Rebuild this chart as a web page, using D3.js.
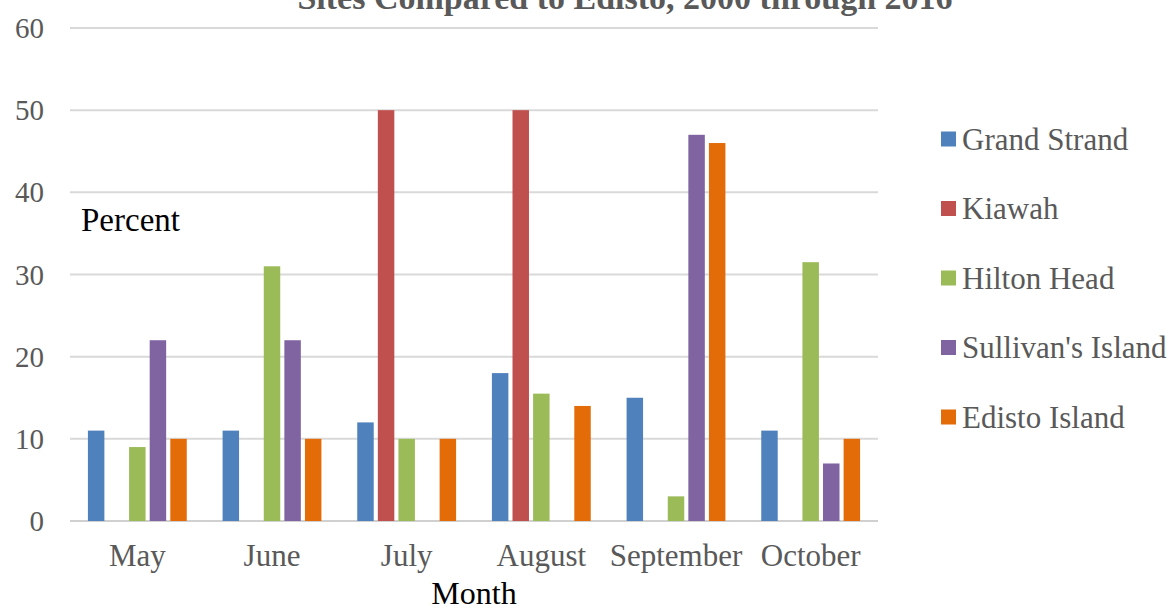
<!DOCTYPE html>
<html><head><meta charset="utf-8">
<script src="https://cdn.jsdelivr.net/npm/d3@7"></script>
<style>body{margin:0;background:#fff}svg{display:block}</style>
</head><body>
<script>
const months = ["May","June","July","August","September","October"];
const seriesNames = ["Grand Strand","Kiawah","Hilton Head","Sullivan's Island","Edisto Island"];
const grandStrand = [11,11,12,18,15,11];
const kiawah = [0,0,50,50,0,0];
const hiltonHead = [9,31,10,15.5,3,31.5];
const sullivans = [22,22,0,0,47,7];
const edisto = [10,10,10,14,46,10];
const yTicks = [0,10,20,30,40,50,60];
const colors = ["#4f81bd","#c0504d","#9bbb59","#8064a2","#e36c09"];
const seriesValues = [grandStrand,kiawah,hiltonHead,sullivans,edisto];

const W=1171,H=612;
const svg=d3.select("body").append("svg").attr("width",W).attr("height",H);
const font="'Liberation Serif','Times New Roman',serif";

const x0=d3.scaleBand().domain(months).range([70,878]).padding(0);
const x1=d3.scaleBand().domain(seriesNames).range([0,x0.bandwidth()]).paddingInner(0.2).paddingOuter(0.87);
const y=d3.scaleLinear().domain([0,60]).range([521,28]);

// gridlines
svg.append("g").selectAll("line").data(yTicks).join("line")
  .attr("x1",70).attr("x2",878).attr("y1",d=>y(d)).attr("y2",d=>y(d))
  .attr("stroke",d=>d===0?"#d0d0d0":"#d9d9d9").attr("stroke-width",2);

// y tick labels
svg.append("g").selectAll("text").data(yTicks).join("text")
  .attr("x",44).attr("y",d=>y(d)).attr("dy","0.35em").attr("text-anchor","end")
  .attr("font-family",font).attr("font-size",29).attr("fill","#595959").text(d=>d);

// bars
const data=[];
months.forEach((m,i)=>seriesNames.forEach((s,j)=>data.push({m,s,v:seriesValues[j][i],c:colors[j]})));
svg.append("g").selectAll("rect").data(data.filter(d=>d.v>0)).join("rect")
  .attr("x",d=>x0(d.m)+x1(d.s)).attr("width",x1.bandwidth())
  .attr("y",d=>y(d.v)).attr("height",d=>y(0)-y(d.v)).attr("fill",d=>d.c);

// x labels
const xAxis=d3.axisBottom(x0).tickSize(0).tickPadding(0);
const gx=svg.append("g").attr("transform","translate(0,0)").call(xAxis);
gx.select(".domain").remove();
gx.selectAll(".tick").attr("transform",d=>`translate(${x0(d)+x0.bandwidth()/2},0)`);
gx.selectAll("text").attr("font-family",font).attr("font-size",31).attr("fill","#595959").attr("dy",null).attr("y",566);

// axis titles
svg.append("text").attr("x",474).attr("y",604).attr("text-anchor","middle")
  .attr("font-family",font).attr("font-size",32).attr("fill","#000").text("Month");
svg.append("text").attr("x",81).attr("y",231)
  .attr("font-family",font).attr("font-size",33).attr("fill","#000").text("Percent");

// title (clipped at top, as in the reference)
svg.append("text").attr("x",625).attr("y",9).attr("text-anchor","middle")
  .attr("font-family",font).attr("font-size",34).attr("font-weight","bold").attr("fill","#595959")
  .text("Sites Compared to Edisto, 2000 through 2016");

// legend
const lg=svg.append("g").selectAll("g").data(seriesNames).join("g")
  .attr("transform",(d,i)=>`translate(941,${139+i*69.5})`);
lg.append("rect").attr("x",0).attr("y",-7.5).attr("width",15).attr("height",15).attr("fill",(d,i)=>colors[i]);
lg.append("text").attr("x",21).attr("y",0).attr("dy","0.35em")
  .attr("font-family",font).attr("font-size",31).attr("fill","#595959").text(d=>d);
</script>
</body></html>
